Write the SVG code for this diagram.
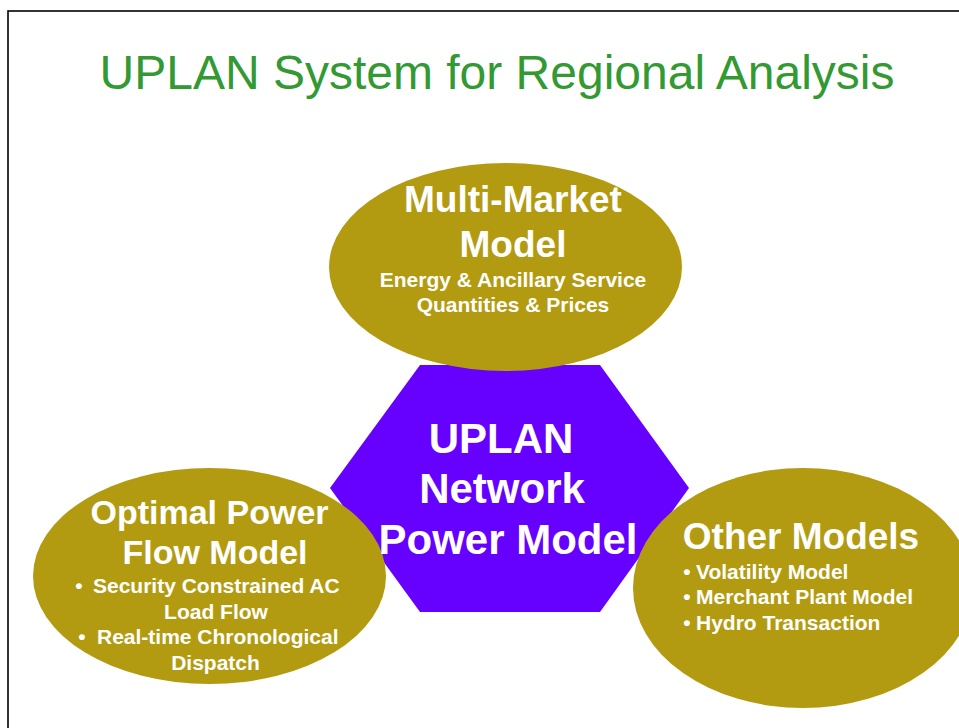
<svg xmlns="http://www.w3.org/2000/svg" width="959" height="728" viewBox="0 0 959 728">
<style>
.gold{fill:#B39B11}
.hex{fill:#6600FF}
.t{font-family:"Liberation Sans",Arial,sans-serif;font-weight:bold;fill:#FFFFFF}
.big{font-size:37px}
.hx{font-size:42px}
.sm{font-size:21px}
.title{font-family:"Liberation Sans",Arial,sans-serif;font-size:48px;fill:#339933}
</style>
<rect x="0" y="0" width="959" height="728" fill="#FFFFFF"/>
<rect x="8" y="11" width="1000" height="800" fill="none" stroke="#000000" stroke-width="1.6"/>
<text class="title" x="497" y="89" text-anchor="middle">UPLAN System for Regional Analysis</text>
<g id="connectors"></g>
<g id="hexagon-node">
<polygon class="hex" points="420,365 600,365 689,488 600,612 420,612 330,488"/>
</g>
<g id="multi-market">
<ellipse class="gold" cx="505.5" cy="267" rx="176.5" ry="104"/>
<text class="t big" x="513" y="212" text-anchor="middle">Multi-Market</text>
<text class="t big" x="513" y="257" text-anchor="middle">Model</text>
<text class="t sm" x="513" y="287" text-anchor="middle">Energy &amp; Ancillary Service</text>
<text class="t sm" x="513" y="312" text-anchor="middle">Quantities &amp; Prices</text>
</g>
<g id="optimal-power-flow">
<ellipse class="gold" cx="209.5" cy="576" rx="176.5" ry="108"/>
<text class="t big" x="209.5" y="524" text-anchor="middle" style="font-size:34px">Optimal Power</text>
<text class="t big" x="215" y="564" text-anchor="middle" style="font-size:34px">Flow Model</text>
<text class="t sm" x="79" y="593" text-anchor="middle">•</text>
<text class="t sm" x="93" y="593">Security Constrained AC</text>
<text class="t sm" x="216" y="619" text-anchor="middle">Load Flow</text>
<text class="t sm" x="82" y="644" text-anchor="middle">•</text>
<text class="t sm" x="97" y="644">Real-time Chronological</text>
<text class="t sm" x="215.5" y="670" text-anchor="middle">Dispatch</text>
</g>
<g id="other-models">
<ellipse class="gold" cx="803" cy="588" rx="170" ry="120"/>
<text class="t big" x="801" y="549" text-anchor="middle">Other Models</text>
<text class="t sm" x="687" y="579" text-anchor="middle">•</text>
<text class="t sm" x="696" y="579">Volatility Model</text>
<text class="t sm" x="687" y="604" text-anchor="middle">•</text>
<text class="t sm" x="696" y="604">Merchant Plant Model</text>
<text class="t sm" x="687" y="630" text-anchor="middle">•</text>
<text class="t sm" x="696" y="630">Hydro Transaction</text>
</g>
<g id="hexagon-label">
<text class="t hx" x="501" y="453" text-anchor="middle">UPLAN</text>
<text class="t hx" x="502" y="503" text-anchor="middle">Network</text>
<text class="t hx" x="508" y="554" text-anchor="middle">Power Model</text>
</g>
</svg>
